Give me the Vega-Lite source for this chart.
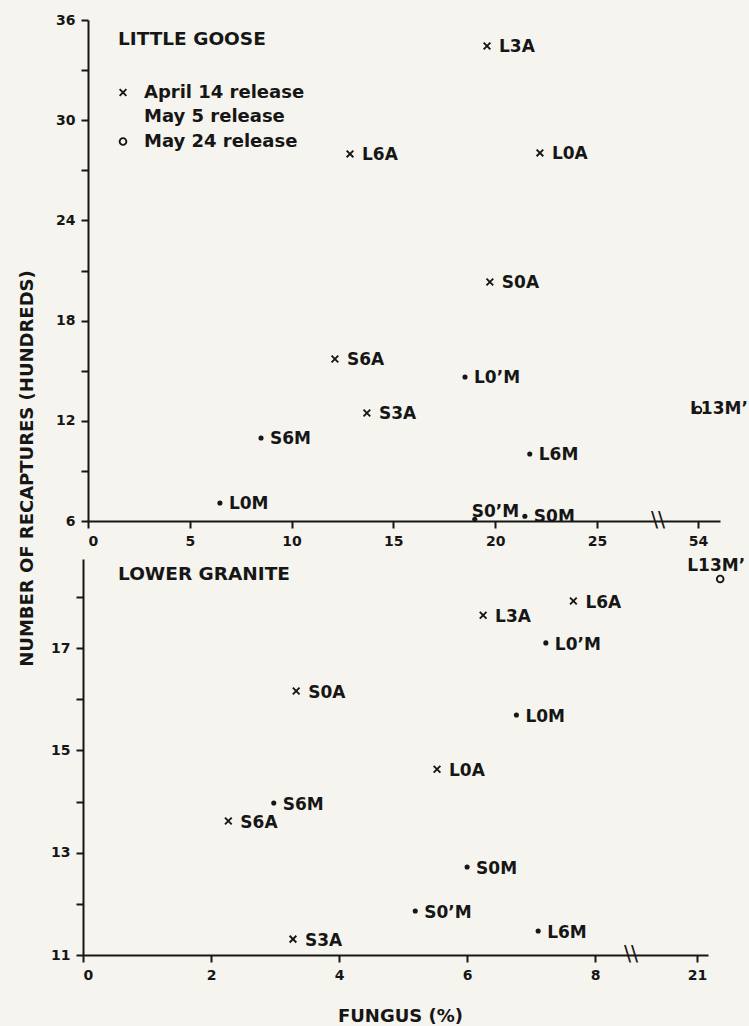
{
  "$schema": "https://vega.github.io/schema/vega-lite/v6.json",
  "background": "#f5f4ee",
  "padding": {"left": 18, "top": 13, "right": 5, "bottom": 5},
  "bounds": "flush",
  "spacing": 38,
  "datasets": {
    "goose": [
      {"label": "L3A", "release": "April 14 release", "fungus": 19.6, "recaptures": 34.44},
      {"label": "L6A", "release": "April 14 release", "fungus": 12.87, "recaptures": 27.98},
      {"label": "L0A", "release": "April 14 release", "fungus": 22.2, "recaptures": 28.04},
      {"label": "S0A", "release": "April 14 release", "fungus": 19.74, "recaptures": 20.31},
      {"label": "S6A", "release": "April 14 release", "fungus": 12.13, "recaptures": 15.7},
      {"label": "S3A", "release": "April 14 release", "fungus": 13.7, "recaptures": 12.47},
      {"label": "L0\u2019M", "release": "May 5 release", "fungus": 18.52, "recaptures": 14.62},
      {"label": "S6M", "release": "May 5 release", "fungus": 8.5, "recaptures": 10.97},
      {"label": "L6M", "release": "May 5 release", "fungus": 21.7, "recaptures": 10.01},
      {"label": "L0M", "release": "May 5 release", "fungus": 6.48, "recaptures": 7.08},
      {"label": "S0\u2019M", "release": "May 5 release", "fungus": 19.0, "recaptures": 6.1},
      {"label": "S0M", "release": "May 5 release", "fungus": 21.46, "recaptures": 6.28},
      {"label": "L13M\u2019", "release": "May 24 release", "fungus": 54, "recaptures": 12.65}
    ],
    "granite": [
      {"label": "L13M\u2019", "release": "May 24 release", "fungus": 21.36, "recaptures": 18.35},
      {"label": "L6A", "release": "April 14 release", "fungus": 7.66, "recaptures": 17.92},
      {"label": "L3A", "release": "April 14 release", "fungus": 6.25, "recaptures": 17.64},
      {"label": "L0\u2019M", "release": "May 5 release", "fungus": 7.23, "recaptures": 17.1},
      {"label": "S0A", "release": "April 14 release", "fungus": 3.33, "recaptures": 16.16},
      {"label": "L0M", "release": "May 5 release", "fungus": 6.77, "recaptures": 15.69},
      {"label": "L0A", "release": "April 14 release", "fungus": 5.53, "recaptures": 14.63},
      {"label": "S6M", "release": "May 5 release", "fungus": 2.98, "recaptures": 13.97},
      {"label": "S6A", "release": "April 14 release", "fungus": 2.27, "recaptures": 13.62},
      {"label": "S0M", "release": "May 5 release", "fungus": 6.0, "recaptures": 12.72},
      {"label": "S0\u2019M", "release": "May 5 release", "fungus": 5.19, "recaptures": 11.86},
      {"label": "L6M", "release": "May 5 release", "fungus": 7.11, "recaptures": 11.47},
      {"label": "S3A", "release": "April 14 release", "fungus": 3.28, "recaptures": 11.31}
    ]
  },
  "resolve": {
    "scale": {"x": "independent", "y": "independent", "shape": "independent"},
    "legend": {"shape": "independent"}
  },
  "vconcat": [
    {
      "width": 632,
      "height": 501,
      "data": {"name": "goose"},
      "encoding": {
        "x": {
          "field": "fungus", "type": "quantitative",
          "scale": {"domain": [0, 28, 52.04, 55.08], "range": [0, 570, 570, 632], "nice": false, "zero": false},
          "axis": {"values": [0, 5, 10, 15, 20, 25, 54], "title": null}
        },
        "y": {
          "field": "recaptures", "type": "quantitative",
          "scale": {"domain": [6, 36], "nice": false, "zero": false},
          "axis": {
            "values": [6, 9, 12, 15, 18, 21, 24, 27, 30, 33, 36],
            "labelExpr": "datum.value % 6 === 0 ? datum.label : ''",
            "title": "NUMBER OF RECAPTURES (HUNDREDS)",
            "titleX": -56, "titleY": 448, "titleAlign": "center", "titleBaseline": "alphabetic", "titleAngle": 270
          }
        }
      },
      "layer": [
        {
          "transform": [{"filter": "datum.release !== 'May 5 release'"}],
          "mark": {"type": "point", "filled": false, "color": "#161616", "opacity": 1, "size": 45, "strokeWidth": 1.9},
          "encoding": {
            "shape": {
              "field": "release", "type": "nominal",
              "scale": {"domain": ["April 14 release", "May 5 release", "May 24 release"], "range": ["M-1,-1L1,1M-1,1L1,-1", "M0,0", "circle"]},
              "legend": {
                "orient": "none", "legendX": 30, "legendY": 10,
                "title": "LITTLE GOOSE",
                "titleFont": "DejaVu Sans", "titleFontSize": 18.5, "titleFontWeight": "bold", "titleColor": "#161616",
                "titlePadding": 35,
                "labelFont": "DejaVu Sans", "labelFontSize": 18, "labelFontWeight": "bold", "labelColor": "#161616",
                "labelOffset": 12, "rowPadding": 6.5, "labelLimit": 300, "symbolOffset": -4,
                "symbolSize": 45, "symbolStrokeWidth": 1.9, "symbolStrokeColor": "#161616", "symbolFillColor": "transparent"
              }
            }
          }
        },
        {
          "transform": [{"filter": "datum.release === 'May 5 release'"}],
          "mark": {"type": "circle", "size": 26, "color": "#161616", "opacity": 1}
        },
        {
          "transform": [{"filter": "datum.release === 'April 14 release'"}],
          "mark": {"type": "text", "dx": 12, "dy": 1},
          "encoding": {"text": {"field": "label"}}
        },
        {
          "transform": [{"filter": "datum.release === 'May 5 release' && datum.label !== 'S0\u2019M'"}],
          "mark": {"type": "text", "dx": 9, "dy": 1},
          "encoding": {"text": {"field": "label"}}
        },
        {
          "transform": [{"filter": "datum.label === 'S0\u2019M'"}],
          "mark": {"type": "text", "baseline": "alphabetic", "dx": -3, "dy": -2},
          "encoding": {"text": {"field": "label"}}
        },
        {
          "transform": [{"filter": "datum.release === 'May 24 release'"}],
          "mark": {"type": "text", "baseline": "alphabetic", "dx": -8, "dy": 4},
          "encoding": {"text": {"field": "label"}}
        },
        {
          "data": {"values": [{"fungus": 40, "recaptures": 6, "mark": "\\\\"}]},
          "mark": {"type": "text", "align": "center", "baseline": "middle", "fontSize": 21, "fontWeight": "normal"},
          "encoding": {"text": {"field": "mark"}}
        }
      ]
    },
    {
      "width": 620,
      "height": 396,
      "data": {"name": "granite"},
      "title": {
        "text": "LOWER GRANITE", "anchor": "start", "frame": "group", "offset": 0,
        "baseline": "alphabetic", "dx": 30, "dy": 42,
        "font": "DejaVu Sans", "fontSize": 18.5, "fontWeight": "bold", "color": "#161616"
      },
      "encoding": {
        "x": {
          "field": "fungus", "type": "quantitative",
          "scale": {"domain": [0, 8.56, 19.97, 21.17], "range": [-5, 543, 543, 620], "nice": false, "zero": false},
          "axis": {"values": [0, 2, 4, 6, 8, 21], "title": "FUNGUS (%)", "titleX": 312, "titleY": 66, "titleBaseline": "alphabetic"}
        },
        "y": {
          "field": "recaptures", "type": "quantitative",
          "scale": {"domain": [11, 18.74], "nice": false, "zero": false},
          "axis": {
            "values": [11, 12, 13, 14, 15, 16, 17, 18],
            "labelExpr": "datum.value % 2 === 1 ? datum.label : ''",
            "offset": 5, "title": null
          }
        }
      },
      "layer": [
        {
          "transform": [{"filter": "datum.release !== 'May 5 release'"}],
          "mark": {"type": "point", "filled": false, "color": "#161616", "opacity": 1, "size": 45, "strokeWidth": 1.9},
          "encoding": {
            "shape": {
              "field": "release", "type": "nominal",
              "scale": {"domain": ["April 14 release", "May 5 release", "May 24 release"], "range": ["M-1,-1L1,1M-1,1L1,-1", "M0,0", "circle"]},
              "legend": null
            }
          }
        },
        {
          "transform": [{"filter": "datum.release === 'May 5 release'"}],
          "mark": {"type": "circle", "size": 26, "color": "#161616", "opacity": 1}
        },
        {
          "transform": [{"filter": "datum.release === 'April 14 release'"}],
          "mark": {"type": "text", "dx": 12, "dy": 2},
          "encoding": {"text": {"field": "label"}}
        },
        {
          "transform": [{"filter": "datum.release === 'May 5 release'"}],
          "mark": {"type": "text", "dx": 9, "dy": 2},
          "encoding": {"text": {"field": "label"}}
        },
        {
          "transform": [{"filter": "datum.release === 'May 24 release'"}],
          "mark": {"type": "text", "align": "center", "baseline": "alphabetic", "dx": -4, "dy": -8},
          "encoding": {"text": {"field": "label"}}
        },
        {
          "data": {"values": [{"fungus": 14, "recaptures": 11, "mark": "\\\\"}]},
          "mark": {"type": "text", "align": "center", "baseline": "middle", "fontSize": 21, "fontWeight": "normal"},
          "encoding": {"text": {"field": "mark"}}
        }
      ]
    }
  ],
  "config": {
    "view": {"stroke": null},
    "axis": {
      "grid": false,
      "domainColor": "#161616", "domainWidth": 2,
      "tickColor": "#161616", "tickWidth": 2, "tickSize": 7,
      "labelFont": "DejaVu Sans", "labelFontSize": 14, "labelFontWeight": "bold", "labelColor": "#161616",
      "labelPadding": 6,
      "titleFont": "DejaVu Sans", "titleFontSize": 18, "titleFontWeight": "bold", "titleColor": "#161616"
    },
    "text": {"font": "DejaVu Sans", "fontWeight": "bold", "fontSize": 17, "color": "#161616", "align": "left", "baseline": "middle"}
  }
}
